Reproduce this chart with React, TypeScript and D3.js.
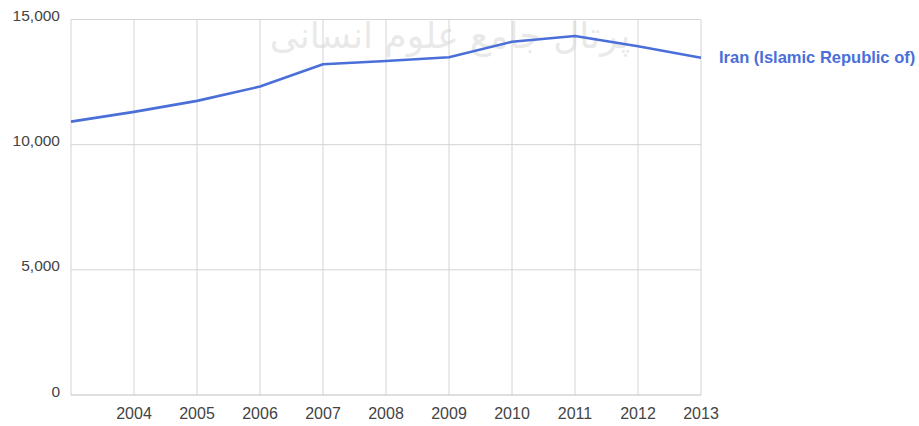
import React from 'react'
import * as d3 from 'd3'

const WIDTH = 919
const HEIGHT = 426
const margin = { top: 19.5, right: 218, bottom: 31, left: 71 }

const years = [2003, 2004, 2005, 2006, 2007, 2008, 2009, 2010, 2011, 2012, 2013]
const values = [10920, 11310, 11750, 12320, 13210, 13340, 13490, 14110, 14340, 13930, 13475]
const yTicks = [0, 5000, 10000, 15000]
const xLabels = [2004, 2005, 2006, 2007, 2008, 2009, 2010, 2011, 2012, 2013]
const seriesName = 'Iran (Islamic Republic of)'
const watermark = 'پرتال جامع علوم انسانی'

const FONT = '"Liberation Sans", Arial, sans-serif'

const App = () => {
  const x = d3.scaleLinear().domain([2003, 2013]).range([margin.left, WIDTH - margin.right])
  const y = d3.scaleLinear().domain([0, 15000]).range([HEIGHT - margin.bottom, margin.top])

  const linePath = d3.line<number>()
    .x((d, i) => x(years[i]))
    .y(d => y(d))

  const fmt = d3.format(',')
  const last = values.length - 1

  return (
    <div style={{ position: 'absolute', left: 0, top: 0 }}>
      <svg width={WIDTH} height={HEIGHT} style={{ display: 'block', background: 'white' }}>
        {/* faint watermark */}
        <text x={450} y={48} textAnchor="middle" fontSize={36} fill="#b8b8b8" opacity={0.3}
          fontFamily='"DejaVu Sans", sans-serif'>
          {watermark}
        </text>

        <g data-grid>
          {years.map(yr => (
            <line key={yr} x1={x(yr)} x2={x(yr)} y1={y(15000)} y2={y(0)} stroke="#d4d4d4" strokeWidth={1} />
          ))}
          {yTicks.map(t => (
            <line key={t} x1={x(2003)} x2={x(2013)} y1={y(t)} y2={y(t)}
              stroke={t === 0 ? '#c0c0c0' : '#d4d4d4'} strokeWidth={1} />
          ))}
        </g>

        <g data-y-axis>
          {yTicks.map(t => (
            <text key={t} x={x(2003) - 11} y={y(t)} dy="0.1em" textAnchor="end" fontSize={15.5}
              fill="#444" fontFamily={FONT}>
              {fmt(t)}
            </text>
          ))}
        </g>

        <g data-x-axis>
          {xLabels.map(yr => (
            <text key={yr} x={x(yr)} y={y(0) + 24} textAnchor="middle" fontSize={16}
              fill="#444" fontFamily={FONT}>
              {yr}
            </text>
          ))}
        </g>

        <path d={linePath(values) || ''} fill="none" stroke="#4a6fd8" strokeWidth={2.6}
          strokeLinejoin="round" />

        <text x={x(2013) + 18} y={y(values[last])} dy="0.35em" fontSize={16.5} fontWeight="bold"
          fill="#4a6fd8" fontFamily={FONT}>
          {seriesName}
        </text>
      </svg>
    </div>
  )
}

export default App
